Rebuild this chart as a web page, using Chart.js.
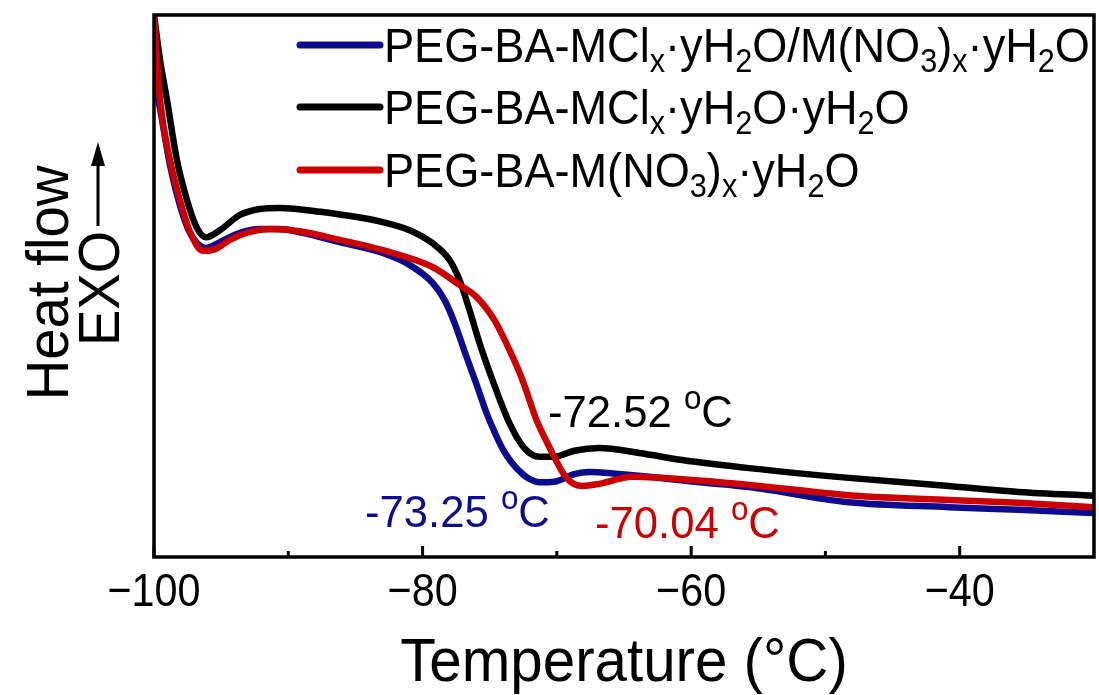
<!DOCTYPE html>
<html>
<head>
<meta charset="utf-8">
<script src="https://cdn.jsdelivr.net/npm/chart.js@4.4.0/dist/chart.umd.min.js"></script>
<style>
  html, body { margin: 0; padding: 0; background: #fff; }
  #wrap { width: 1099px; height: 695px; }
</style>
</head>
<body>
<div id="wrap"><canvas id="c" width="1099" height="695"></canvas></div>
<script>
/* ── data: DSC curves, heat flow in arbitrary units (0 = frame bottom, 100 = frame top) ── */
const blueT  = [-100, -99.55, -98.81, -98.07, -97.32, -96.13, -95.09, -93.61, -92.12, -90.63, -89.14, -86.17, -82.97, -80.97, -79.26, -78.36, -77.62, -76.88, -75.99, -75.24, -74.65, -74.05, -73.38, -72.64, -72.05, -71.30, -70.19, -68.70, -67.58, -65.35, -63.12, -59.41, -55.69, -48.25, -40.82, -35.61, -30];
const blueHF = [88.2, 82.7, 72.3, 64.9, 59.8, 57.0, 58.1, 59.8, 60.5, 60.5, 59.9, 58.1, 56.1, 53.9, 50.6, 47.4, 43.2, 38.0, 31.9, 26.6, 23.1, 20.0, 17.5, 15.5, 14.4, 13.8, 13.9, 15.3, 15.7, 15.3, 14.8, 13.8, 12.9, 10.1, 9.2, 8.7, 8.1];

const blackT  = [-100, -99.55, -99.03, -98.29, -97.55, -96.80, -96.13, -95.09, -93.61, -92.12, -90.63, -87.66, -82.97, -80.97, -79.26, -77.99, -77.25, -76.51, -75.76, -74.80, -73.53, -72.42, -71.30, -70.19, -68.70, -66.84, -63.87, -60.67, -55.69, -48.25, -40.82, -35.61, -30];
const blackHF = [100, 91.7, 84.3, 73.2, 65.9, 60.7, 59.0, 60.3, 63.1, 64.2, 64.4, 63.7, 61.8, 60.3, 57.9, 54.8, 51.1, 45.6, 39.5, 32.7, 24.7, 20.1, 18.5, 18.5, 19.6, 20.1, 19.2, 17.9, 16.4, 14.6, 13.1, 12.0, 11.3];

const redT  = [-100, -99.55, -98.81, -98.07, -97.32, -96.36, -95.46, -94.35, -92.86, -91.38, -89.14, -86.17, -82.97, -79.26, -77.25, -75.99, -74.65, -73.53, -72.57, -71.52, -70.56, -69.29, -68.10, -66.84, -64.39, -60.89, -55.69, -48.25, -40.82, -35.61, -30];
const redHF = [100, 84.3, 73.2, 65.9, 60.0, 56.5, 56.8, 58.5, 60.0, 60.5, 60.1, 58.5, 56.6, 53.5, 50.2, 48.0, 43.7, 38.2, 32.7, 25.3, 20.3, 14.6, 13.1, 13.5, 14.8, 14.4, 13.3, 11.4, 10.5, 10.0, 9.2];

const X_MAJOR = [-100, -80, -60, -40];
const X_MINOR = [-90, -70, -50];

/* legend / annotation text as [text, mode] pieces, mode: sub | sup */
const LABEL_BLUE  = [["PEG-BA-MCl"], ["x", "sub"], ["\u00b7yH"], ["2", "sub"], ["O/M(NO"], ["3", "sub"], [")"], ["x", "sub"], ["\u00b7yH"], ["2", "sub"], ["O"]];
const LABEL_BLACK = [["PEG-BA-MCl"], ["x", "sub"], ["\u00b7yH"], ["2", "sub"], ["O\u00b7yH"], ["2", "sub"], ["O"]];
const LABEL_RED   = [["PEG-BA-M(NO"], ["3", "sub"], [")"], ["x", "sub"], ["\u00b7yH"], ["2", "sub"], ["O"]];

const C_BLUE = "#0c0c8e", C_BLACK = "#000000", C_RED = "#cc0000";
const FONT = '"Liberation Sans", Arial, sans-serif';

const pts = (xs, ys) => xs.map((x, i) => ({ x, y: ys[i] }));

// text drawn slightly condensed, like the narrow face of the original figure
function narrow(ctx, t, x, y, size, sx) {
  ctx.font = `${size}px ${FONT}`;
  ctx.save();
  ctx.translate(x, y);
  ctx.scale(sx, 1);
  ctx.fillText(t, 0, 0);
  ctx.restore();
  return ctx.measureText(t).width * sx;
}

function richText(ctx, parts, x, y, size, sx, small) {
  for (const [t, m] of parts) {
    const s = m ? size * small : size;
    const dy = m === "sub" ? size * 0.2 : m === "sup" ? -size * 0.4 : 0;
    x += narrow(ctx, t, x, y + dy, s, sx);
  }
  return x;
}

const decor = {
  id: "decor",
  afterDraw(chart) {
    const { ctx, chartArea: a, scales: { x } } = chart;
    ctx.save();
    ctx.strokeStyle = "#000";
    ctx.fillStyle = "#000";

    // frame
    ctx.lineWidth = 3.5;
    ctx.strokeRect(a.left, a.top, a.right - a.left, a.bottom - a.top);

    // inward ticks on bottom axis
    ctx.lineWidth = 3;
    ctx.beginPath();
    X_MAJOR.forEach(v => { const px = x.getPixelForValue(v); ctx.moveTo(px, a.bottom); ctx.lineTo(px, a.bottom - 11); });
    X_MINOR.forEach(v => { const px = x.getPixelForValue(v); ctx.moveTo(px, a.bottom); ctx.lineTo(px, a.bottom - 6); });
    ctx.stroke();

    // tick labels
    ctx.textBaseline = "alphabetic";
    ctx.textAlign = "left";
    X_MAJOR.forEach(v => {
      const t = String(v).replace("-", "\u2212");
      ctx.font = `47px ${FONT}`;
      const w = ctx.measureText(t).width * 0.88;
      narrow(ctx, t, x.getPixelForValue(v) - w / 2, 606, 47, 0.88);
    });

    // legend
    [[LABEL_BLUE, C_BLUE, 45], [LABEL_BLACK, C_BLACK, 107], [LABEL_RED, C_RED, 170]].forEach(([parts, col, ly]) => {
      ctx.strokeStyle = col;
      ctx.lineWidth = 7;
      ctx.lineCap = "round";
      ctx.beginPath(); ctx.moveTo(300, ly); ctx.lineTo(380, ly); ctx.stroke();
      ctx.fillStyle = "#000";
      richText(ctx, parts, 384, ly + 17, 48, 0.94, 0.68);
    });

    // onset annotations
    const deg = v => [[v + " "], ["o", "sup"], ["C"]];
    ctx.fillStyle = C_BLACK; richText(ctx, deg("-72.52"), 548, 427, 45, 0.97, 0.72);
    ctx.fillStyle = C_BLUE;  richText(ctx, deg("-73.25"), 365, 527, 45, 0.97, 0.72);
    ctx.fillStyle = C_RED;   richText(ctx, deg("-70.04"), 595, 538, 45, 0.97, 0.72);

    // axis titles
    ctx.fillStyle = "#000";
    const title = "Temperature (\u00b0C)";
    ctx.font = `62px ${FONT}`;
    const tw = ctx.measureText(title).width * 0.94;
    narrow(ctx, title, (a.left + a.right) / 2 - tw / 2, 681, 62, 0.94);

    ctx.save();
    ctx.translate(68, 0);
    ctx.rotate(-Math.PI / 2);
    ctx.font = `60px ${FONT}`;
    const hw = ctx.measureText("Heat flow").width * 0.94;
    narrow(ctx, "Heat flow", -283 - hw / 2, 0, 60, 0.94);
    ctx.restore();

    ctx.save();
    ctx.translate(119, 346);
    ctx.rotate(-Math.PI / 2);
    narrow(ctx, "EXO", 0, 0, 58, 0.94);
    ctx.restore();

    // EXO arrow
    ctx.strokeStyle = "#000";
    ctx.lineWidth = 3;
    ctx.lineCap = "butt";
    ctx.beginPath(); ctx.moveTo(98, 226); ctx.lineTo(98, 160); ctx.stroke();
    ctx.beginPath(); ctx.moveTo(98, 142); ctx.lineTo(91, 166); ctx.lineTo(105, 166); ctx.closePath(); ctx.fill();

    ctx.restore();
  }
};

const line = (data, color, order) => ({
  data, borderColor: color, borderWidth: 6.5, pointRadius: 0,
  cubicInterpolationMode: "monotone", fill: false, order,
});

new Chart(document.getElementById("c"), {
  type: "line",
  data: {
    datasets: [
      line(pts(blueT, blueHF), C_BLUE, 2),
      line(pts(blackT, blackHF), C_BLACK, 1),
      line(pts(redT, redHF), C_RED, 0),
    ],
  },
  options: {
    responsive: false,
    animation: false,
    devicePixelRatio: 1,
    layout: { padding: { left: 0, top: 15, right: 5, bottom: 0 } },
    plugins: { legend: { display: false }, tooltip: { enabled: false } },
    scales: {
      x: {
        type: "linear", min: -100, max: -30,
        grid: { display: false, drawTicks: false },
        border: { display: false },
        ticks: { display: false },
        afterFit: s => { s.height = 138; },
      },
      y: {
        min: 0, max: 100,
        grid: { display: false, drawTicks: false },
        border: { display: false },
        ticks: { display: false },
        afterFit: s => { s.width = 154; },
      },
    },
  },
  plugins: [decor],
});
</script>
</body>
</html>
